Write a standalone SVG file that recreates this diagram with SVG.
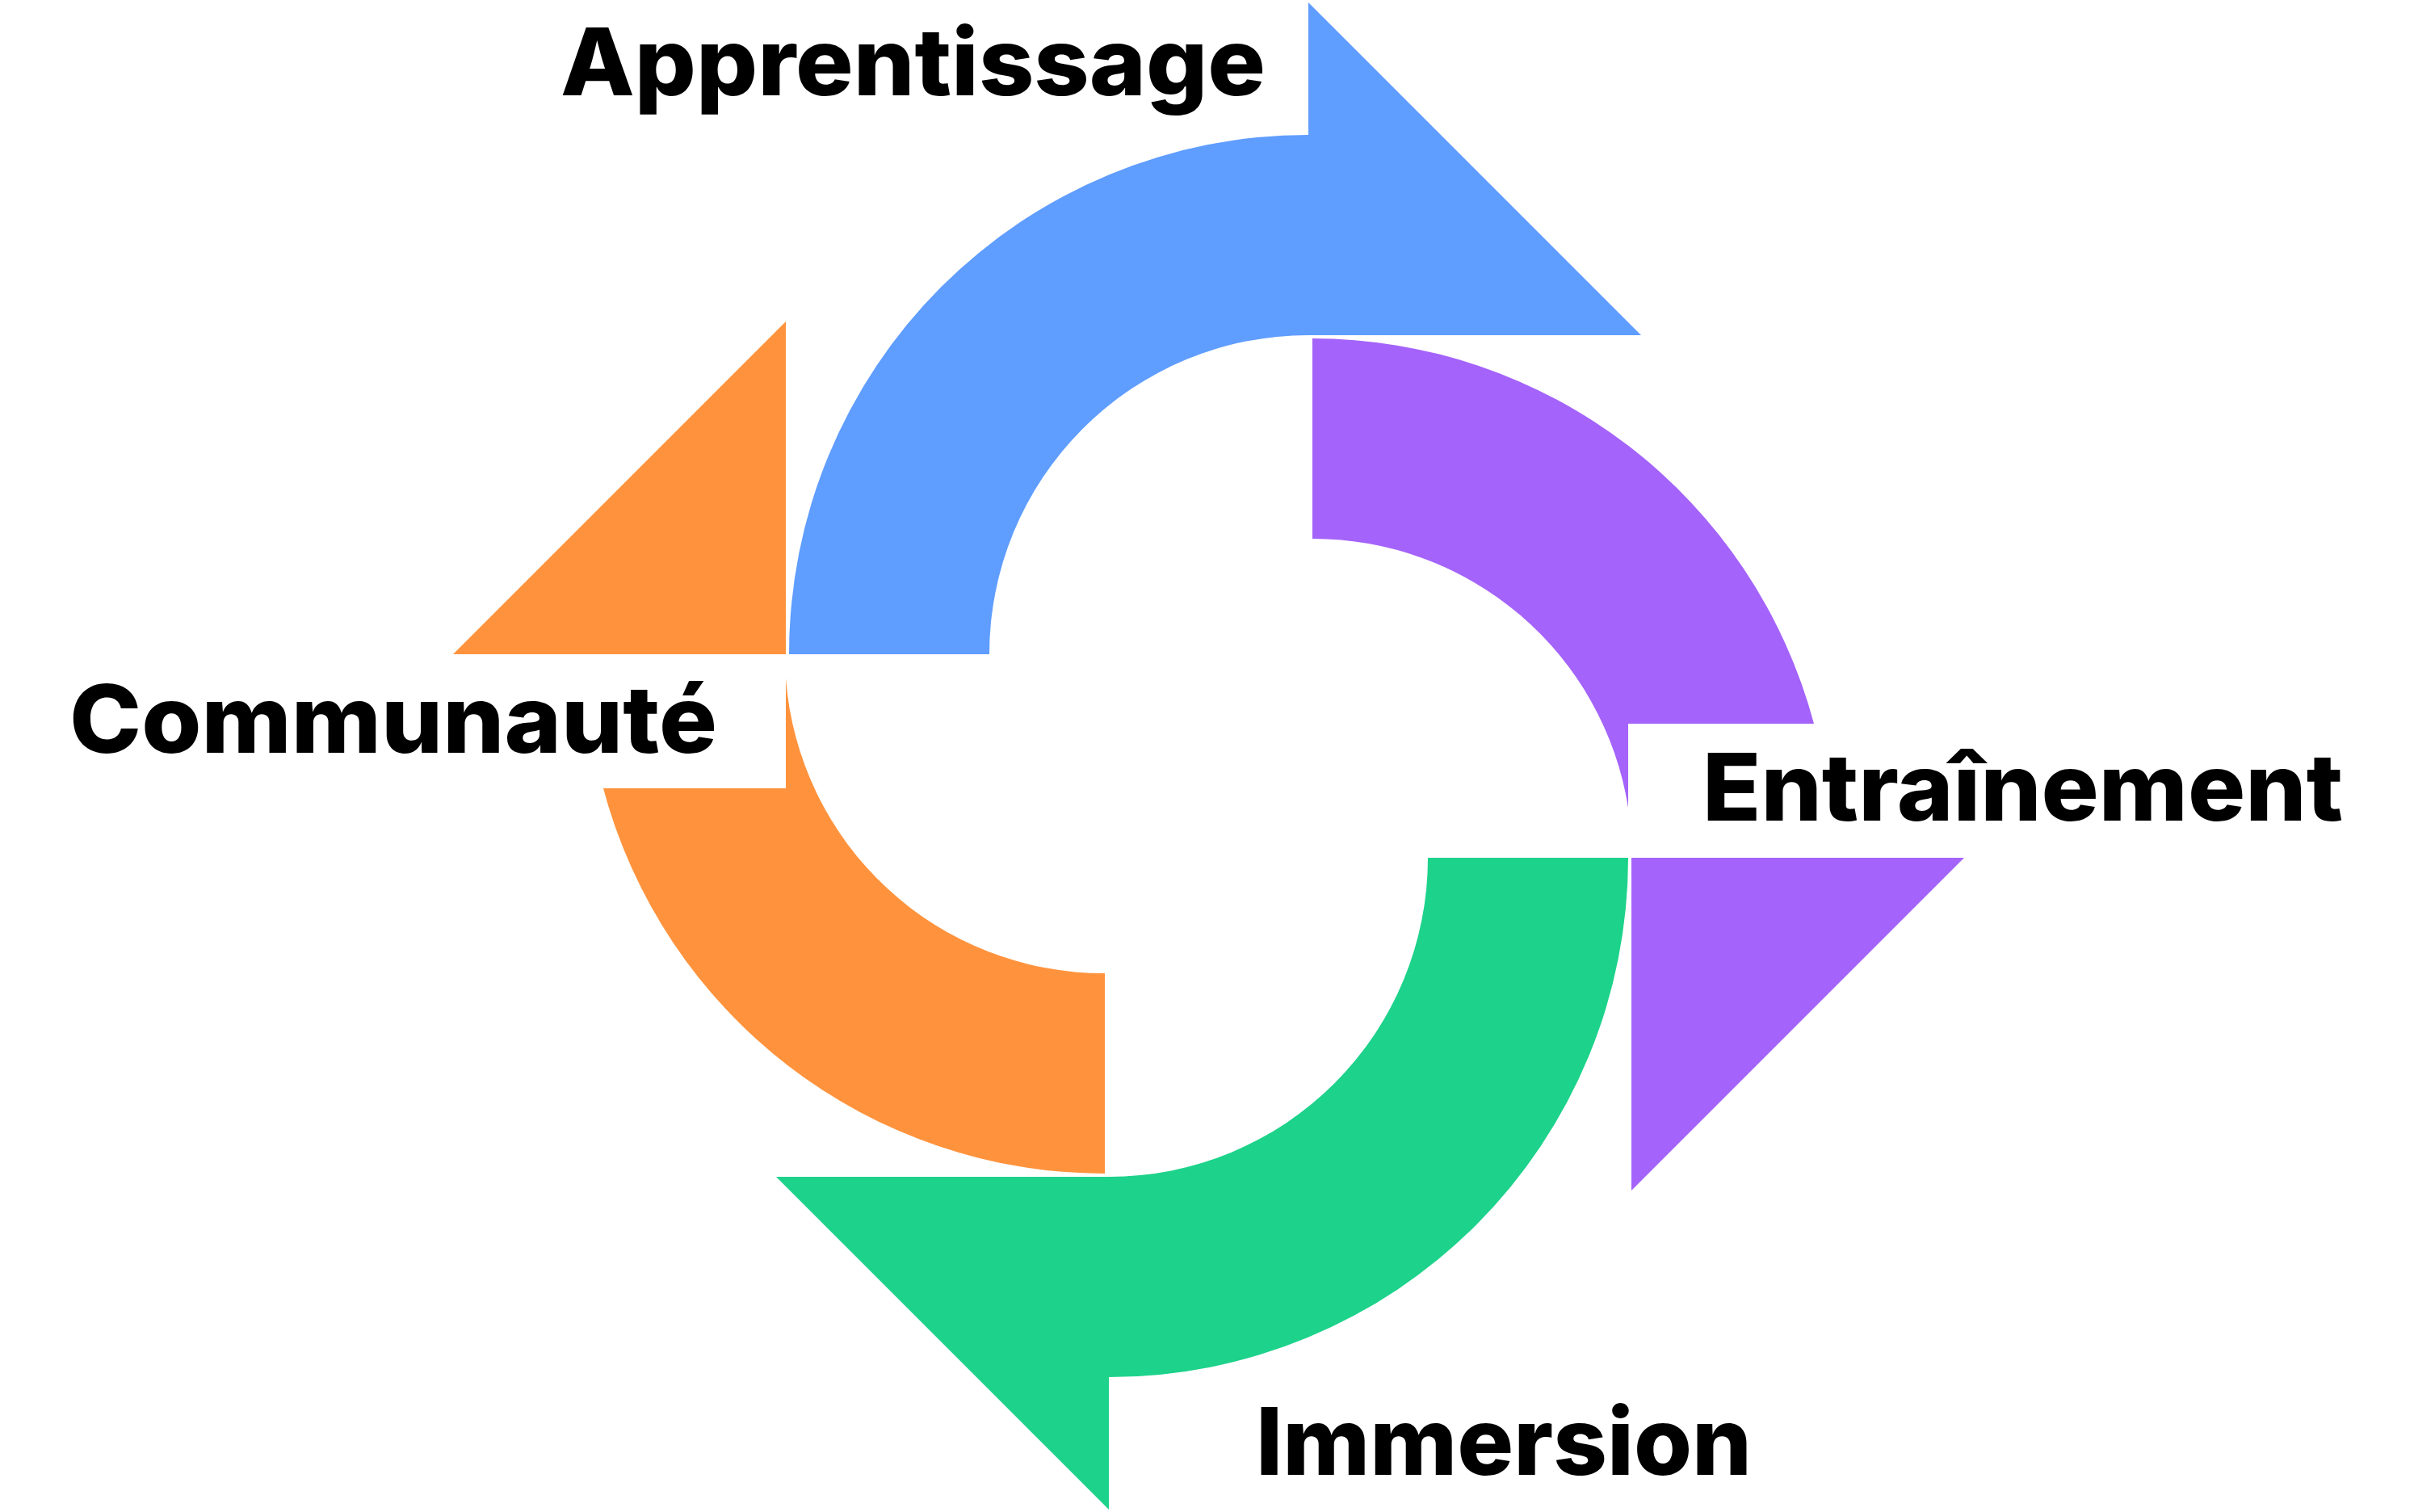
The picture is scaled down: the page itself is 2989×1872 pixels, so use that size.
<svg xmlns="http://www.w3.org/2000/svg" width="2989" height="1872" viewBox="0 0 2989 1872">
<style>
.lbl{font-family:Inter,"Noto Sans","Liberation Sans",sans-serif;font-weight:800;font-size:116px;fill:#000}
.blue{fill:#5F9DFF}.purple{fill:#A463FA}.green{fill:#1DD28A}.orange{fill:#FF933D}
</style>
<rect width="2989" height="1872" fill="#fff"/>
<g id="connectors">
<g id="arrow-blue"><path class="blue" d="M977,810 A643,643 0 0 1 1620,167 L1620,3 L2032,415 L1620,415 A395,395 0 0 0 1225,810 Z"/></g>
<g id="arrow-purple">
<path class="purple" d="M1625,419 A643,643 0 0 1 2246,896 L2016,896 L2016,1000 A395,395 0 0 0 1625,667 Z"/>
<path class="purple" d="M2020,1062 L2432,1062 L2020,1474 Z"/>
</g>
<g id="arrow-green"><path class="green" d="M2016,1062 A643,643 0 0 1 1373,1705 L1373,1869 L961,1457 L1373,1457 A395,395 0 0 0 1768,1062 Z"/></g>
<g id="arrow-orange">
<path class="orange" d="M1368,1453 A643,643 0 0 1 747,976 L973,976 L973,840 A395,395 0 0 0 1368,1205 Z"/>
<path class="orange" d="M973,810 L561,810 L973,398 Z"/>
</g>
</g>
<g id="node-apprentissage"><text class="lbl" x="694" y="118" textLength="873" lengthAdjust="spacingAndGlyphs">Apprentissage</text></g>
<g id="node-entrainement"><text class="lbl" x="2108" y="1016" textLength="793" lengthAdjust="spacingAndGlyphs">Entraînement</text></g>
<g id="node-immersion"><text class="lbl" x="1555" y="1826" textLength="614" lengthAdjust="spacingAndGlyphs">Immersion</text></g>
<g id="node-communaute"><text class="lbl" x="86" y="932" textLength="802" lengthAdjust="spacingAndGlyphs">Communauté</text></g>
</svg>
